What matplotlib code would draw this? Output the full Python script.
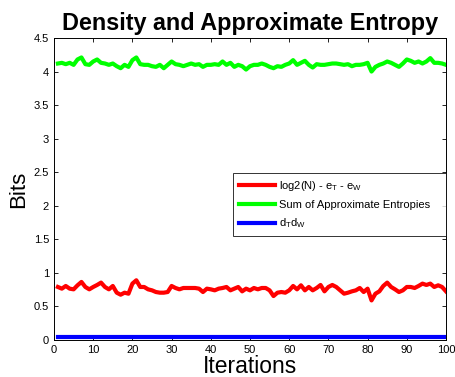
import matplotlib
matplotlib.use("Agg")
import matplotlib.pyplot as plt
import numpy as np

plt.rcParams['font.family'] = ['Liberation Sans', 'DejaVu Sans']
plt.rcParams['mathtext.fontset'] = 'custom'
plt.rcParams['mathtext.rm'] = 'Liberation Sans'
plt.rcParams['mathtext.it'] = 'Liberation Sans'
plt.rcParams['mathtext.default'] = 'regular'

iterations = list(range(1, 101))

sum_entropies = [
    4.12, 4.13, 4.11, 4.13, 4.10, 4.18, 4.21, 4.11, 4.10, 4.15,
    4.18, 4.13, 4.12, 4.10, 4.12, 4.08, 4.05, 4.10, 4.07, 4.17,
    4.21, 4.11, 4.10, 4.10, 4.08, 4.07, 4.10, 4.05, 4.10, 4.15,
    4.11, 4.10, 4.08, 4.10, 4.12, 4.10, 4.11, 4.07, 4.10, 4.10,
    4.11, 4.10, 4.15, 4.10, 4.13, 4.07, 4.10, 4.08, 4.03, 4.08,
    4.10, 4.10, 4.12, 4.10, 4.07, 4.05, 4.08, 4.07, 4.10, 4.12,
    4.17, 4.10, 4.13, 4.16, 4.10, 4.06, 4.11, 4.10, 4.10, 4.11,
    4.12, 4.12, 4.11, 4.10, 4.11, 4.08, 4.10, 4.10, 4.11, 4.13,
    4.00, 4.07, 4.10, 4.12, 4.15, 4.13, 4.10, 4.07, 4.12, 4.18,
    4.16, 4.13, 4.15, 4.12, 4.15, 4.20, 4.13, 4.13, 4.12, 4.10,
]

log2n_minus = [
    0.790, 0.765, 0.805, 0.765, 0.755, 0.815, 0.865, 0.790, 0.755, 0.790,
    0.820, 0.855, 0.790, 0.755, 0.805, 0.705, 0.675, 0.705, 0.690, 0.840,
    0.890, 0.790, 0.790, 0.755, 0.740, 0.715, 0.705, 0.705, 0.715, 0.805,
    0.775, 0.755, 0.775, 0.775, 0.775, 0.775, 0.765, 0.715, 0.765, 0.755,
    0.740, 0.765, 0.775, 0.790, 0.740, 0.765, 0.790, 0.725, 0.765, 0.740,
    0.775, 0.755, 0.775, 0.775, 0.740, 0.655, 0.705, 0.715, 0.705, 0.740,
    0.805, 0.755, 0.815, 0.740, 0.790, 0.740, 0.775, 0.820, 0.725, 0.790,
    0.820, 0.790, 0.740, 0.690, 0.705, 0.725, 0.740, 0.775, 0.715, 0.765,
    0.590, 0.690, 0.725, 0.805, 0.855, 0.790, 0.755, 0.715, 0.740, 0.790,
    0.790, 0.775, 0.805, 0.840, 0.820, 0.840, 0.790, 0.815, 0.790, 0.725,
]

dt_dw = [0.05] * 100

labels = [r'log2(N) - e$_\mathrm{T}$ - e$_\mathrm{W}$', 'Sum of Approximate Entropies',
          r'd$_\mathrm{T}$d$_\mathrm{W}$']
xticks = list(range(0, 101, 10))
yticks = [0, 0.5, 1, 1.5, 2, 2.5, 3, 3.5, 4, 4.5]
ytick_labels = ['0', '0.5', '1', '1.5', '2', '2.5', '3', '3.5', '4', '4.5']

fig = plt.figure(figsize=(4.56, 3.77), dpi=100)
ax = fig.add_axes([54/456, 1-340/377, (446-54)/456, (340-38)/377])

ax.plot(iterations, log2n_minus, color='#ff0000', lw=3, label=labels[0])
ax.plot(iterations, sum_entropies, color='#00ff00', lw=3, label=labels[1])
ax.plot(iterations, dt_dw, color='#0000ff', lw=3, label=labels[2])

ax.set_xlim(0, 100)
ax.set_ylim(0, 4.5)
ax.set_xticks(xticks)
ax.set_yticks(yticks)
ax.set_yticklabels(ytick_labels)
ax.tick_params(direction='in', top=True, right=True, labelsize=8, length=3, width=0.6)
for s in ax.spines.values():
    s.set_linewidth(0.7)

ax.set_title('Density and Approximate Entropy', fontsize=16.8, fontweight='bold', pad=6)
ax.set_xlabel('Iterations', fontsize=16.5, labelpad=0)
ax.set_ylabel('Bits', fontsize=16, labelpad=3)

leg = ax.legend(loc='upper left', bbox_to_anchor=(0.457, 0.338, 0.543, 0.215),
                mode='expand', fontsize=8, frameon=True, fancybox=False,
                edgecolor='black', borderaxespad=0, handlelength=3.2,
                handletextpad=0.4, labelspacing=0.6, borderpad=0.55)
leg.get_frame().set_linewidth(0.7)

fig.savefig('out.png', dpi=100)
